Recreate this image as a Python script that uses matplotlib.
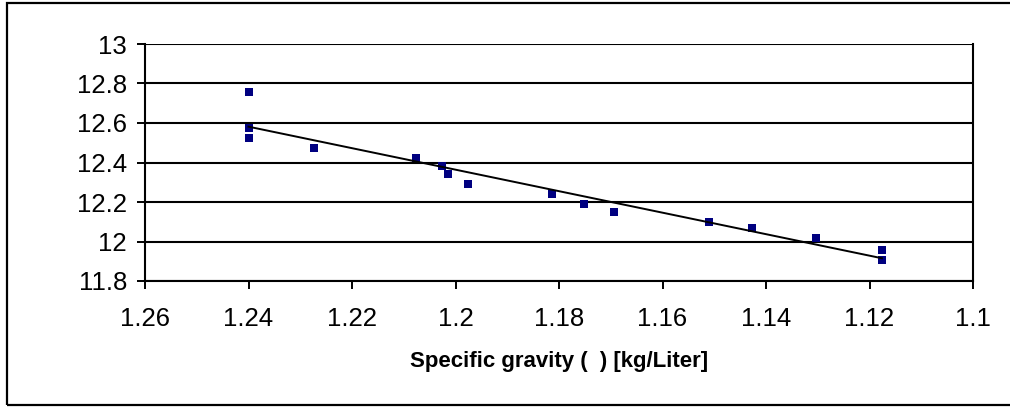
import numpy as np
import matplotlib
matplotlib.use("Agg")
import matplotlib.pyplot as plt
from matplotlib.patches import Rectangle

# Data
specific_gravity = [1.240, 1.240, 1.240, 1.2273, 1.2076, 1.2026, 1.2014, 1.1976,
                    1.1813, 1.1751, 1.1693, 1.1511, 1.1427, 1.1303, 1.1176, 1.1176]
value = [12.757, 12.576, 12.524, 12.475, 12.424, 12.382, 12.343, 12.293,
         12.242, 12.191, 12.151, 12.100, 12.070, 12.018, 11.958, 11.908]
x_ticks = [1.26, 1.24, 1.22, 1.2, 1.18, 1.16, 1.14, 1.12, 1.1]
x_tick_labels = ["1.26", "1.24", "1.22", "1.2", "1.18", "1.16", "1.14", "1.12", "1.1"]
y_ticks = [11.8, 12.0, 12.2, 12.4, 12.6, 12.8, 13.0]
y_tick_labels = ["11.8", "12", "12.2", "12.4", "12.6", "12.8", "13"]
x_label = "Specific gravity (  ) [kg/Liter]"

plt.rcParams['font.family'] = ['Liberation Sans', 'DejaVu Sans']

W, H = 1010, 407
fig = plt.figure(figsize=(W / 100, H / 100), dpi=100)
fig.patch.set_facecolor("white")

# outer frame (right edge lies outside the image)
fig.patches.append(Rectangle((7 / W, 1 - 405 / H), 1.2, (405 - 3) / H,
                             transform=fig.transFigure, fill=False,
                             edgecolor="black", linewidth=1.6))

left, right, top, bottom = 145, 973, 44, 281
ax = fig.add_axes([left / W, 1 - bottom / H, (right - left) / W, (bottom - top) / H])

xs = np.array(specific_gravity)
ys = np.array(value)
ax.scatter(xs, ys, s=26, marker="s", color="#000080", zorder=3, linewidths=0)

# linear trend line across data range
coef = np.polyfit(xs, ys, 1)
xl = np.array([xs.max(), xs.min()])
ax.plot(xl, np.polyval(coef, xl), color="black", linewidth=1.4, zorder=4)

ax.set_xlim(1.26, 1.1)
ax.set_ylim(11.8, 13.0)
ax.set_xticks(x_ticks)
ax.set_xticklabels(x_tick_labels)
ax.set_yticks(y_ticks)
ax.set_yticklabels(y_tick_labels)

for yv in y_ticks:
    ax.axhline(yv, color="black", linewidth=1.5, zorder=1)

ax.spines["top"].set_visible(False)
for s in ["left", "right", "bottom"]:
    ax.spines[s].set_linewidth(1.5)

ax.tick_params(axis="both", direction="out", length=6, width=1.4, labelsize=18.5, colors="black")
ax.tick_params(axis="y", pad=7)
ax.tick_params(axis="x", pad=13)

ax.set_xlabel(x_label, fontsize=16, fontweight="bold", labelpad=14)

fig.savefig("out.png", dpi=100, facecolor="white")
